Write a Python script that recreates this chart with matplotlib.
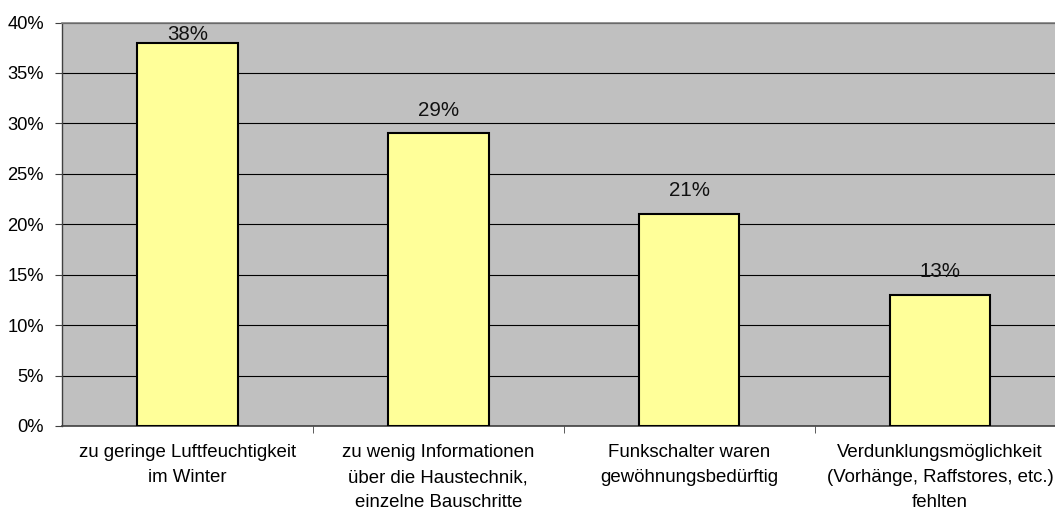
import matplotlib.pyplot as plt
import numpy as np

categories = ['zu geringe Luftfeuchtigkeit\nim Winter',
              'zu wenig Informationen\nüber die Haustechnik,\neinzelne Bauschritte',
              'Funkschalter waren\ngewöhnungsbedürftig',
              'Verdunklungsmöglichkeit\n(Vorhänge, Raffstores, etc.)\nfehlten']
values = [38, 29, 21, 13]
labels = ['38%', '29%', '21%', '13%']

plt.rcParams['font.family'] = ['Liberation Sans', 'DejaVu Sans']

fig = plt.figure(figsize=(10.55, 5.12), dpi=100)
ax = fig.add_axes([62/1055, 1 - 426/512, 993/1055, (426 - 22.5)/512])
ax.set_facecolor('#C0C0C0')

x = np.arange(len(values))
ax.bar(x, values, width=0.4, color='#FFFF99', edgecolor='black',
       linewidth=1.5, zorder=3)

# labels sit above the bars, but stay inside the plot area
for xi, v, lab in zip(x, values, labels):
    ax.text(xi, min(v + 2.3, 38.8), lab, ha='center', va='center',
            fontsize=14.8, color='#111111', zorder=4)

ax.set_xlim(-0.5, 3.458)
ax.set_ylim(0, 40)
ax.set_yticks(np.arange(0, 41, 5))
ax.set_yticklabels([f'{t}%' for t in range(0, 41, 5)], fontsize=13.2)
ax.yaxis.grid(True, color='black', linewidth=0.8, zorder=1)
ax.set_axisbelow(True)

ax.set_xticks(x)
ax.set_xticklabels(categories, fontsize=13.4, linespacing=1.62)
ax.set_xticks([0.5, 1.5, 2.5], minor=True)
ax.tick_params(axis='x', which='major', length=0, pad=13)
ax.tick_params(axis='x', which='minor', length=5, color='#404040')
ax.tick_params(axis='y', length=5, color='#404040', pad=8)

ax.spines['top'].set_color('#808080')
ax.spines['top'].set_linewidth(1.2)
ax.spines['right'].set_visible(False)
ax.spines['left'].set_color('#404040')
ax.spines['left'].set_linewidth(1.0)
ax.spines['bottom'].set_color('#404040')
ax.spines['bottom'].set_linewidth(1.2)

plt.savefig('out.png', dpi=100)
plt.close()
